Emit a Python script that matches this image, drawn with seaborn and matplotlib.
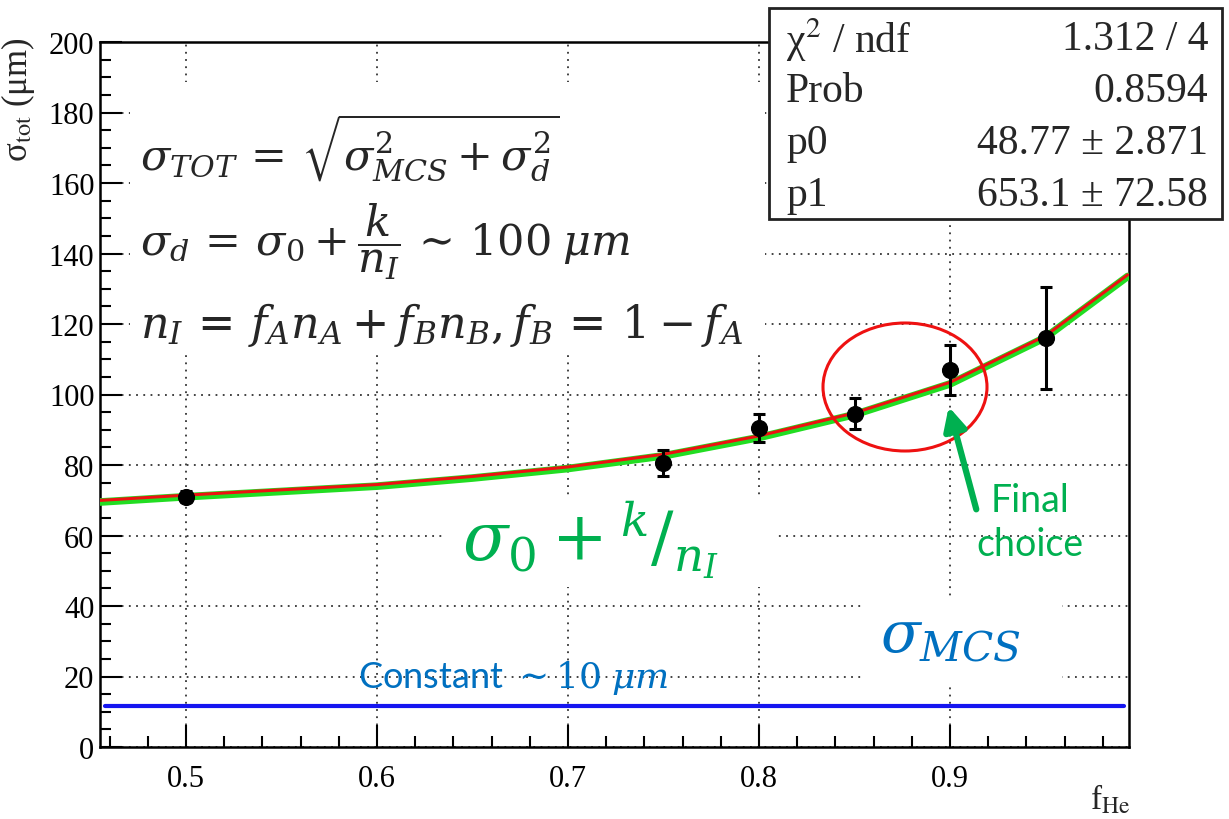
import numpy as np
import pandas as pd
import matplotlib
matplotlib.use("Agg")
import matplotlib.pyplot as plt
import matplotlib.transforms as mtransforms
from matplotlib.patches import Rectangle, Ellipse, FancyArrowPatch
import seaborn as sns

# measured points
f_he = [0.50, 0.75, 0.80, 0.85, 0.90, 0.95]
sigma_tot = [71.0, 80.5, 90.5, 94.5, 107.0, 116.0]
sigma_err = [1.5, 3.7, 4.0, 4.4, 7.0, 14.5]

# fit curve sigma0 + k/n_I
fit_x = [0.455, 0.50, 0.55, 0.60, 0.65, 0.70, 0.75, 0.80, 0.85, 0.90, 0.95, 0.993]
fit_y = [69.5, 71.0, 72.5, 74.0, 76.3, 79.0, 82.6, 87.8, 94.3, 103.0, 116.2, 133.5]

# multiple scattering term, roughly constant
mcs_level = 11.5

stats_labels = ["\u03c7$^{2}$ / ndf", "Prob", "p0", "p1"]
stats_values = ["1.312 / 4", "0.8594", "48.77 \u00b1 2.871", "653.1 \u00b1 72.58"]

y_ticks = list(range(0, 201, 20))
x_ticks = [0.5, 0.6, 0.7, 0.8, 0.9]

GREEN = "#00B050"
BLUE_TXT = "#0070C0"

sns.set_style("white")
plt.rcParams["font.family"] = ["Liberation Serif", "DejaVu Serif"]
plt.rcParams["mathtext.fontset"] = "stix"

W, H = 1229, 820
fig = plt.figure(figsize=(W / 100, H / 100), dpi=100)
ax = fig.add_axes([100 / W, 1 - 748 / H, 1029 / W, 705 / H])
ax.set_axisbelow(True)


def fx(x):
    return x / W


def fy(y):
    return 1 - y / H


df = pd.DataFrame({"f": f_he, "sigma": sigma_tot, "err": sigma_err})
fit = pd.DataFrame({"f": fit_x, "sigma": fit_y})

# fit curve: green under red, red nudged up a touch
sns.lineplot(data=fit, x="f", y="sigma", ax=ax, color="#22DD22", lw=5.5, zorder=3)
shift = mtransforms.ScaledTranslation(0, 1.6 / 100, fig.dpi_scale_trans)
sns.lineplot(data=fit, x="f", y="sigma", ax=ax, color="#EE1111", lw=2.2, zorder=4,
             transform=ax.transData + shift)

ax.errorbar(df["f"], df["sigma"], yerr=df["err"], fmt="none", ecolor="black",
            elinewidth=2.2, capsize=4, capthick=2.2, zorder=5)
sns.scatterplot(data=df, x="f", y="sigma", ax=ax, color="black", s=130,
                edgecolor="black", zorder=6)

ax.axhline(mcs_level, xmin=0.005, xmax=0.995, color="#1515F0", lw=3, zorder=3)

ax.set_xlim(0.455, 0.9937)
ax.set_ylim(0, 200)
ax.set_xticks(x_ticks)
ax.set_xticklabels([f"{v:.1f}" for v in x_ticks])
ax.set_yticks(y_ticks)
ax.set_xticks(np.arange(0.46, 0.995, 0.02), minor=True)
ax.set_yticks(np.arange(0, 201, 5), minor=True)
ax.tick_params(axis="both", which="both", direction="in", bottom=True, left=True,
               top=False, right=False, labelsize=22, colors="black", width=1.5)
ax.tick_params(axis="y", which="major", length=16, pad=4)
ax.tick_params(axis="y", which="minor", length=8)
ax.tick_params(axis="x", which="major", length=16, pad=12)
ax.tick_params(axis="x", which="minor", length=8)
ax.grid(True, which="major", linestyle=(0, (1, 3)), color="#333333", lw=1.3)
for sp in ax.spines.values():
    sp.set_color("black")
    sp.set_linewidth(1.8)
ax.set_xlabel("")
ax.set_ylabel("")

fig.text(fx(18), fy(38), "\u03c3$_{\\rm tot}$ (\u03bcm)", rotation=90, ha="center",
         va="top", fontsize=25)
fig.text(fx(1110), fy(800), r"f$_{\rm He}$", ha="center", va="center", fontsize=24)

# white patches of the pasted overlays
for (x0, y0, x1, y1) in [(130, 83, 765, 355), (443, 498, 777, 588), (862, 600, 1062, 685)]:
    ax.add_patch(Rectangle((fx(x0), fy(y1)), fx(x1 - x0), (y1 - y0) / H,
                           transform=fig.transFigure, facecolor="white",
                           edgecolor="none", zorder=1))

# formulas
mfont = "dejavuserif"
fig.text(fx(140), fy(148), r"$\sigma_{TOT}\,=\,\sqrt{\sigma_{MCS}^{2}+\sigma_{d}^{2}}$",
         fontsize=31, va="center", ha="left", math_fontfamily=mfont, zorder=7)
fig.text(fx(140), fy(242), r"$\sigma_{d}\,=\,\sigma_{0}+\dfrac{k}{n_{I}}\,\sim\,100\;\mu m$",
         fontsize=31, va="center", ha="left", math_fontfamily=mfont, zorder=7)
fig.text(fx(140), fy(325), r"$n_{I}\,=\,f_{A}n_{A}+f_{B}n_{B},f_{B}\,=\,1-f_{A}$",
         fontsize=32, va="center", ha="left", math_fontfamily=mfont, zorder=7)

fig.text(fx(462), fy(540), r"$\sigma_{0}+{}^{k}/_{n_{I}}$", color=GREEN, fontsize=48,
         va="center", ha="left", math_fontfamily=mfont, zorder=7)
fig.text(fx(880), fy(638), r"$\sigma_{MCS}$", color=BLUE_TXT, fontsize=42,
         va="center", ha="left", math_fontfamily=mfont, zorder=7)
fig.text(fx(358), fy(678), r"Constant $\sim 10\;\mu m$", color=BLUE_TXT, fontsize=26,
         va="center", ha="left", family=["Lato", "DejaVu Sans"], math_fontfamily=mfont,
         zorder=7)
fig.text(fx(1030), fy(523), "Final\nchoice", color=GREEN, fontsize=27,
         va="center", ha="center", family=["Lato", "DejaVu Sans"], linespacing=1.3,
         zorder=7)

# highlight ellipse and arrow
ax.add_patch(Ellipse((fx(905), fy(388)), 164 / W, 128 / H, transform=fig.transFigure,
                     fill=False, edgecolor="#EE1111", lw=2.2, zorder=8))
fig.patches.append(FancyArrowPatch((fx(977), fy(513)), (fx(948), fy(405)),
                                   transform=fig.transFigure, arrowstyle="-|>",
                                   mutation_scale=34, color=GREEN, lw=4.5))

# stats box
box = Rectangle((fx(769), fy(220)), 453 / W, 211 / H, transform=fig.transFigure,
                facecolor="white", edgecolor="#222222", lw=2)
fig.patches.append(box)
for i, (lab, val) in enumerate(zip(stats_labels, stats_values)):
    y = 40 + i * 52
    fig.text(fx(786), fy(y), lab, fontsize=30, va="center", ha="left", zorder=10)
    fig.text(fx(1208), fy(y), val, fontsize=30, va="center", ha="right", zorder=10)

fig.savefig("out.png", dpi=100)
